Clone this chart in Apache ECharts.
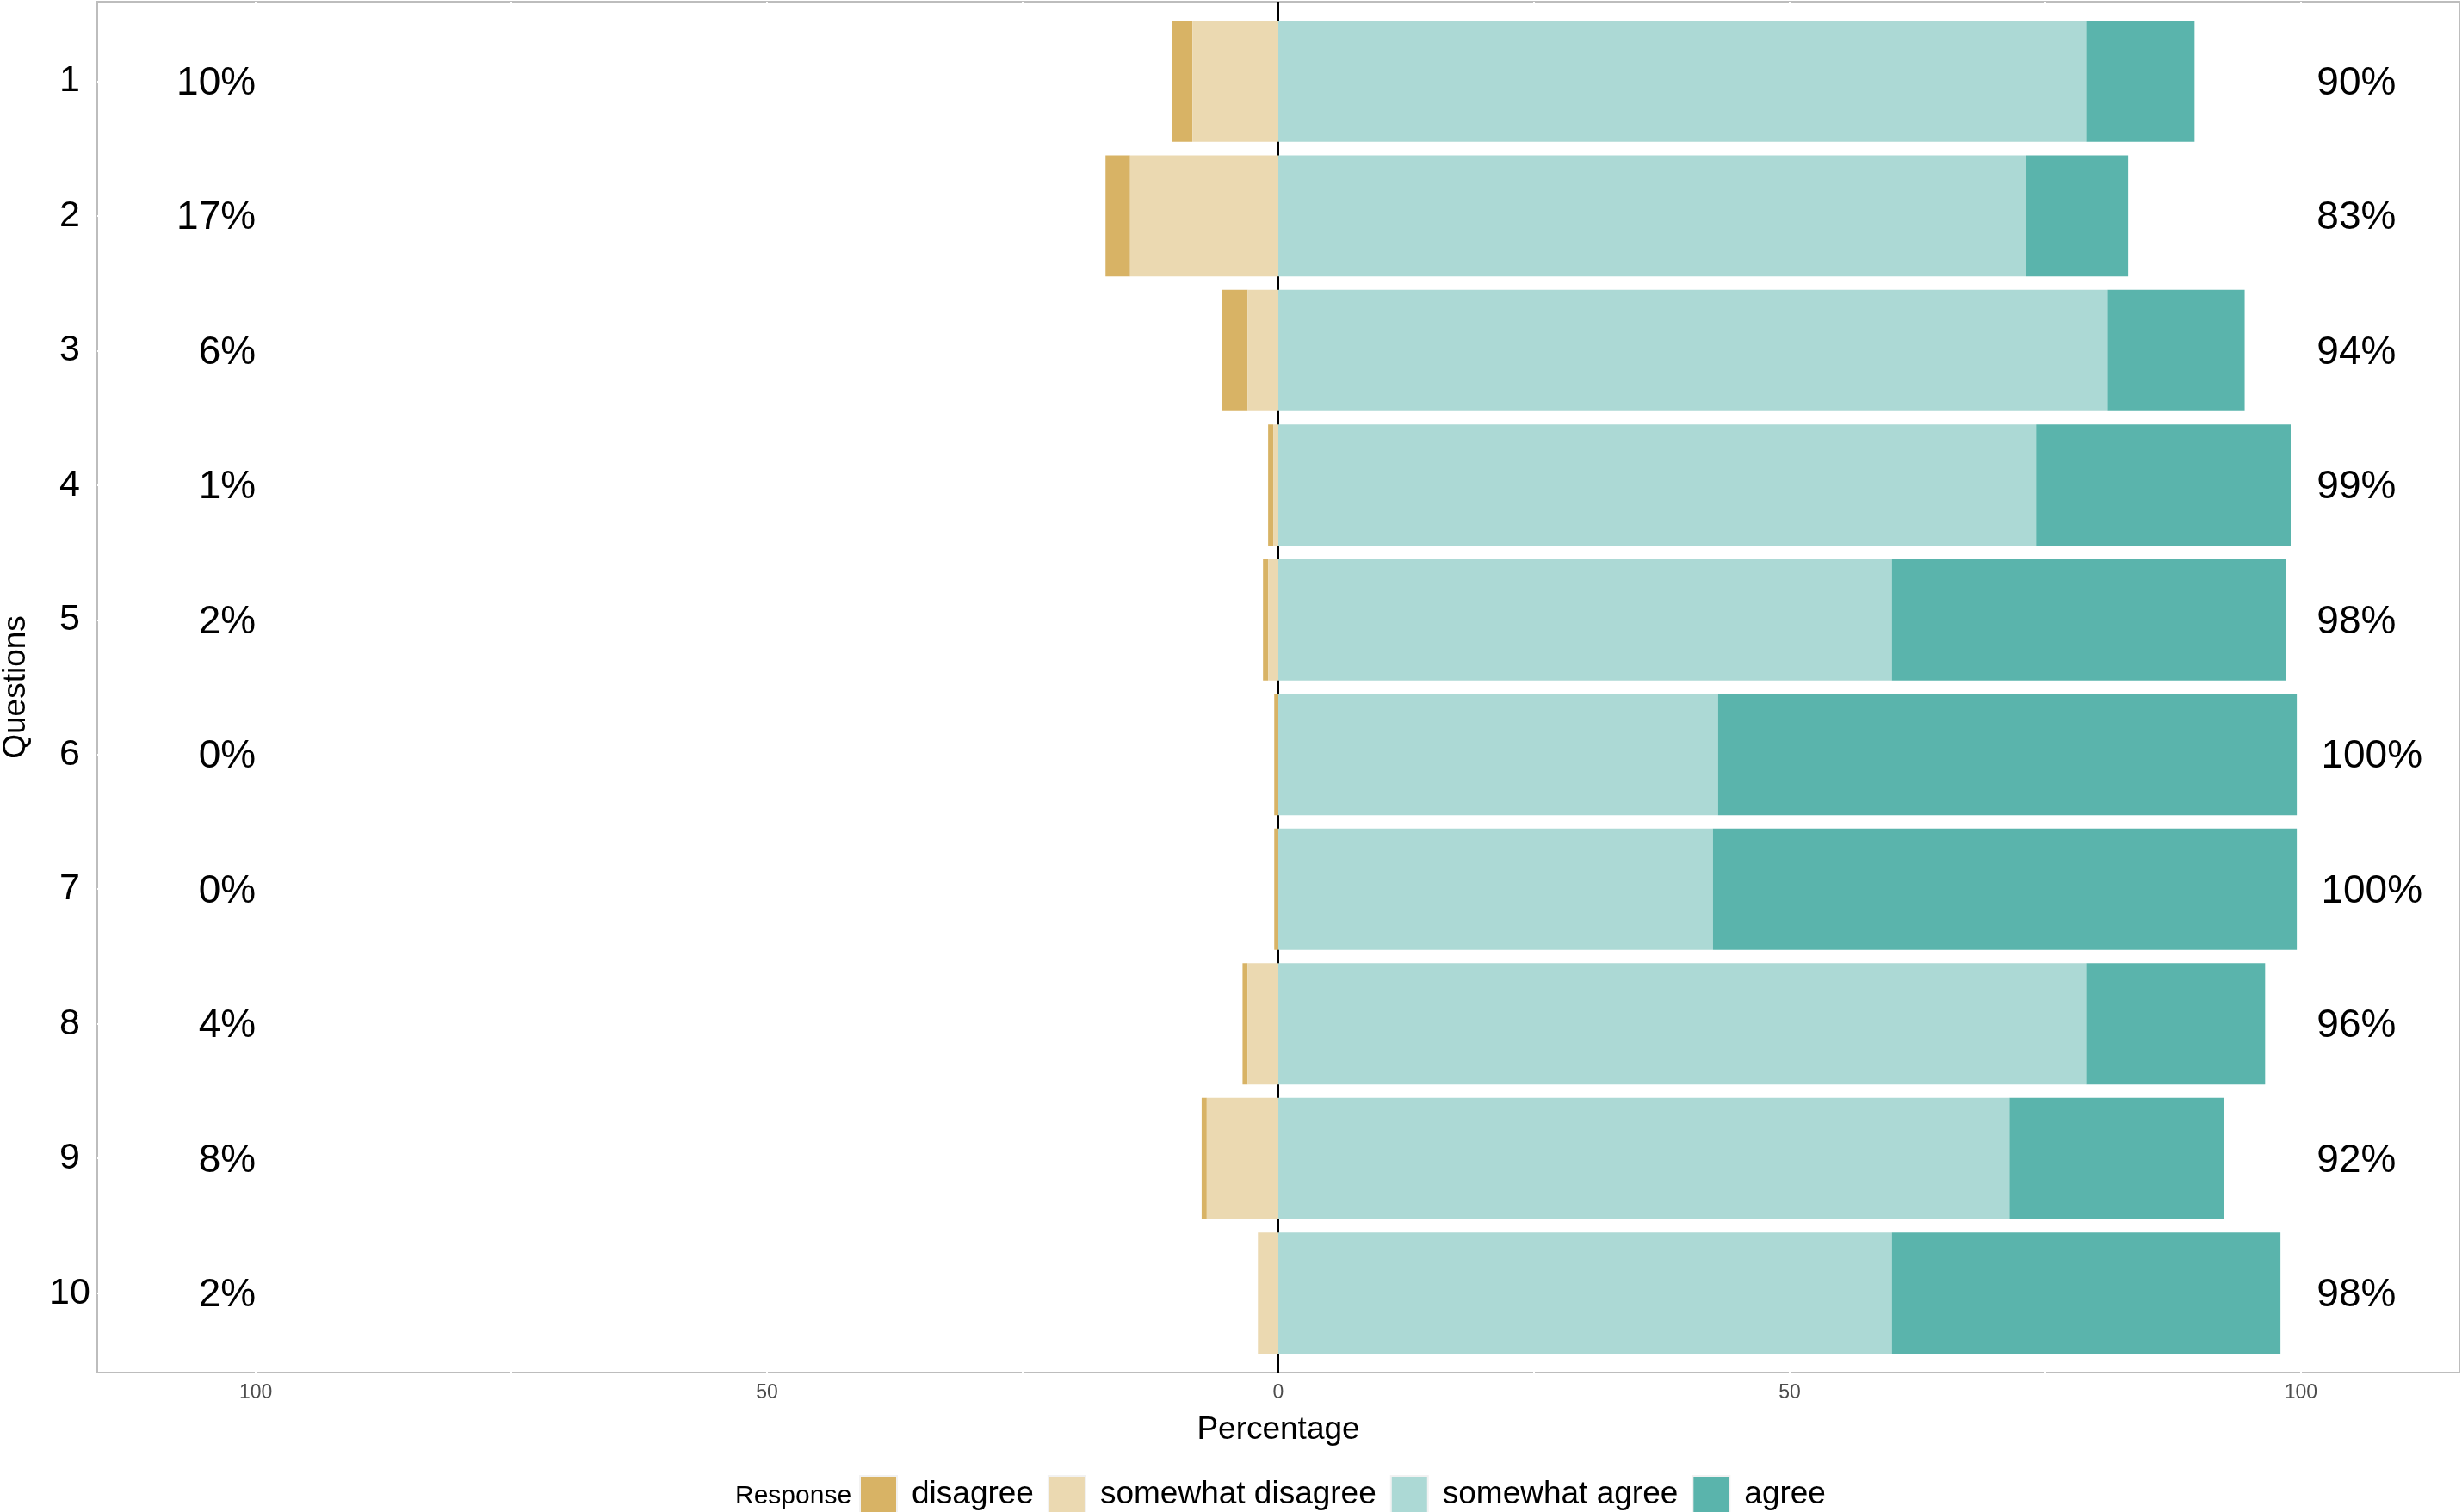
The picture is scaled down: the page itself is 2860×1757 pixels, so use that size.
<!DOCTYPE html>
<html>
<head>
<meta charset="utf-8">
<script src="https://cdn.jsdelivr.net/npm/echarts@6/dist/echarts.min.js"></script>
<style>
html,body{margin:0;padding:0;background:#fff;}
#chart{width:2860px;height:1757px;}
</style>
</head>
<body>
<div id="chart"></div>
<script>
const questions = ['1','2','3','4','5','6','7','8','9','10'];
const disagree         = [2.0, 2.4, 2.5, 0.5, 0.5, 0.4, 0.4, 0.5, 0.5, 0.0];
const somewhatDisagree = [8.4, 14.5, 3.0, 0.5, 1.0, 0.0, 0.0, 3.0, 7.0, 2.0];
const somewhatAgree    = [79.0, 73.1, 81.1, 74.1, 60.0, 43.0, 42.5, 79.0, 71.5, 60.0];
const agree            = [10.6, 10.0, 13.4, 24.9, 38.5, 56.6, 57.1, 17.5, 21.0, 38.0];
const lowLabels  = ['10%','17%','6%','1%','2%','0%','0%','4%','8%','2%'];
const highLabels = ['90%','83%','94%','99%','98%','100%','100%','96%','92%','98%'];
const xTickLabels = [-100, -50, 0, 50, 100];
const xGridValues = [-100, -75, -50, -25, 0, 25, 50, 75, 100];
const responses = ['disagree', 'somewhat disagree', 'somewhat agree', 'agree'];
const colors = ['#D8B365', '#EBD9B1', '#ACD9D5', '#5AB4AC'];

const FONT = "'Liberation Sans', Arial, Helvetica, sans-serif";
const qValues = questions.map((q, i) => i + 1);

const measureCtx = document.createElement('canvas').getContext('2d');
function textWidth(t, size) {
  measureCtx.font = size + 'px ' + FONT;
  return measureCtx.measureText(t).width;
}

const dData  = questions.map((q, i) => [i + 1, -(somewhatDisagree[i] + disagree[i]), -somewhatDisagree[i]]);
const sdData = questions.map((q, i) => [i + 1, -somewhatDisagree[i], 0]);
const saData = questions.map((q, i) => [i + 1, 0, somewhatAgree[i]]);
const aData  = questions.map((q, i) => [i + 1, somewhatAgree[i], somewhatAgree[i] + agree[i]]);

function renderBar(params, api) {
  const y = api.value(0), x0 = api.value(1), x1 = api.value(2);
  if (!(x1 - x0 > 0)) return;
  const p0 = api.coord([x0, y]);
  const p1 = api.coord([x1, y]);
  const h = api.size([0, 1])[1] * 0.9;
  return {
    type: 'rect',
    shape: { x: Math.min(p0[0], p1[0]), y: p0[1] - h / 2, width: Math.abs(p1[0] - p0[0]), height: h },
    style: { fill: api.visual('color') }
  };
}

function barSeries(name, data, color) {
  return {
    name: name, type: 'custom', renderItem: renderBar, data: data,
    encode: { x: [1, 2], y: 0 }, itemStyle: { color: color }, z: 3, silent: true
  };
}

const option = {
  animation: false,
  backgroundColor: '#ffffff',
  textStyle: { fontFamily: FONT },
  title: {
    text: 'Response', left: 849, top: 1719,
    textStyle: { fontFamily: FONT, fontSize: 30, fontWeight: 'normal', color: '#000' }
  },
  legend: {
    data: responses, left: 998, top: 1714, padding: 0,
    orient: 'horizontal', icon: 'rect', itemWidth: 43, itemHeight: 43, itemGap: 16,
    itemStyle: { borderColor: '#F2F2F2', borderWidth: 2 },
    textStyle: { fontFamily: FONT, fontSize: 37, color: '#000', padding: [0, 0, 0, 12] },
    selectedMode: false
  },
  grid: {
    left: 113, right: 3, top: 2, bottom: 162,
    outerBoundsMode: 'none', containLabel: false,
    show: true, borderColor: '#BDBDBD', borderWidth: 2, backgroundColor: '#fff'
  },
  xAxis: {
    type: 'value', min: -115.5, max: 115.5,
    name: 'Percentage', nameLocation: 'middle', nameGap: 48,
    nameTextStyle: { fontFamily: FONT, fontSize: 37, color: '#000' },
    axisLine: { show: false },
    axisTick: { show: false, customValues: xGridValues },
    axisLabel: {
      customValues: xTickLabels, margin: 12,
      fontFamily: FONT, fontSize: 23, color: '#4D4D4D',
      formatter: v => String(Math.abs(v))
    },
    splitLine: { show: true, lineStyle: { color: '#ffffff', width: 2 } }
  },
  yAxis: {
    type: 'value', min: 0.41, max: 10.59, inverse: true,
    name: 'Questions', nameLocation: 'middle', nameGap: 76,
    nameTextStyle: { fontFamily: FONT, fontSize: 37, color: '#000' },
    axisLine: { show: false },
    axisTick: { show: false, customValues: qValues },
    axisLabel: {
      customValues: qValues, margin: 32, align: 'center',
      padding: [6, 0, 0, 0],
      fontFamily: FONT, fontSize: 43, color: '#000',
      formatter: v => questions[Math.round(v) - 1] || ''
    },
    splitLine: { show: true, lineStyle: { color: '#ffffff', width: 2 } }
  },
  series: [
    {
      name: 'zero', type: 'custom', data: [[0, 1]], encode: { x: 0, y: 1 }, z: 2, silent: true,
      renderItem: function (params, api) {
        const p = api.coord([0, 1]);
        const cs = params.coordSys;
        return { type: 'line', shape: { x1: p[0], y1: cs.y, x2: p[0], y2: cs.y + cs.height },
                 style: { stroke: '#000', lineWidth: 2 } };
      }
    },
    barSeries(responses[0], dData, colors[0]),
    barSeries(responses[1], sdData, colors[1]),
    barSeries(responses[2], saData, colors[2]),
    barSeries(responses[3], aData, colors[3]),
    {
      name: 'low', type: 'custom', z: 4, silent: true,
      data: questions.map((q, i) => [-100, i + 1]), encode: { x: 0, y: 1 },
      renderItem: function (params, api) {
        const p = api.coord([api.value(0), api.value(1)]);
        return { type: 'text', x: p[0], y: p[1] + 3,
          style: { text: lowLabels[params.dataIndex], fill: '#000', fontSize: 46, fontFamily: FONT,
                   align: 'right', verticalAlign: 'middle' } };
      }
    },
    {
      name: 'high', type: 'custom', z: 4, silent: true,
      data: questions.map((q, i) => [100, i + 1]), encode: { x: 0, y: 1 },
      renderItem: function (params, api) {
        const p = api.coord([api.value(0), api.value(1)]);
        const t = highLabels[params.dataIndex];
        return { type: 'text', x: p[0] + 0.2 * textWidth(t, 46), y: p[1] + 3,
          style: { text: t, fill: '#000', fontSize: 46, fontFamily: FONT,
                   align: 'left', verticalAlign: 'middle' } };
      }
    }
  ]
};

const chart = echarts.init(document.getElementById('chart'), null, { renderer: 'canvas', width: 2860, height: 1757 });
chart.setOption(option);
</script>
</body>
</html>
